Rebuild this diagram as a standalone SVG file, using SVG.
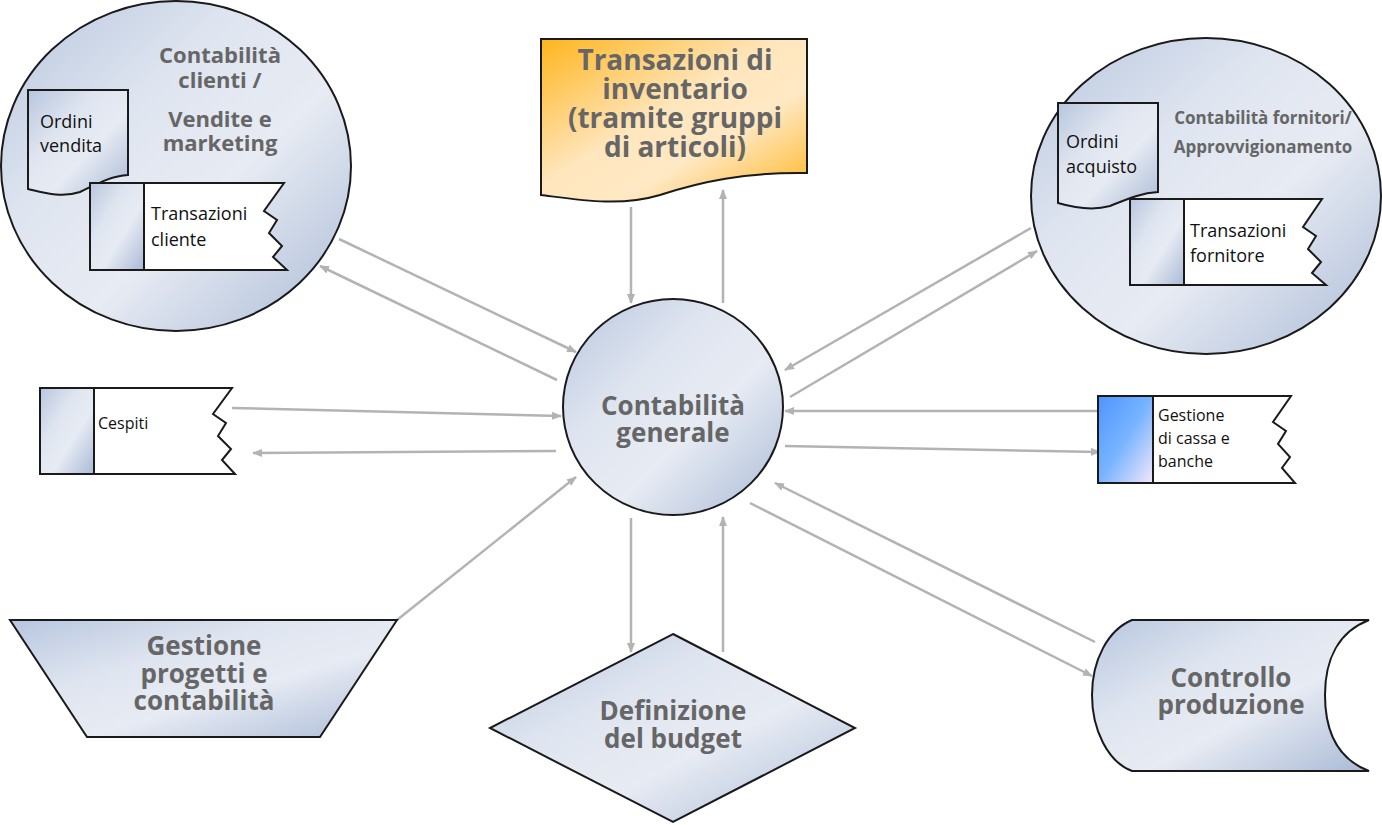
<svg xmlns="http://www.w3.org/2000/svg" width="1382" height="825" viewBox="0 0 1382 825">
<style>
.sh{stroke:#1a1a1a;stroke-width:2;fill:url(#gBlue)}
.wh{stroke:#1a1a1a;stroke-width:2;fill:#fff}
.big{font-family:"Open Sans","Noto Sans",sans-serif;font-weight:bold;fill:#666;text-anchor:middle}
.sm{font-family:"Open Sans","Noto Sans",sans-serif;fill:#111}
.cn line{stroke:#b3b3b3;stroke-width:2.5;marker-end:url(#ah)}
</style>
<defs>
<linearGradient id="gBlue" x1="0" y1="0" x2="1" y2="1">
<stop offset="0" stop-color="#b7c6de"/>
<stop offset="0.35" stop-color="#dfe5f0"/>
<stop offset="0.6" stop-color="#e7ebf3"/>
<stop offset="1" stop-color="#a9bad6"/>
</linearGradient>
<linearGradient id="gOr" x1="0" y1="0" x2="1" y2="1">
<stop offset="0" stop-color="#ffb41c"/>
<stop offset="0.45" stop-color="#ffe6bd"/>
<stop offset="0.65" stop-color="#ffe8c4"/>
<stop offset="1" stop-color="#ffb51f"/>
</linearGradient>
<linearGradient id="gCash" x1="0" y1="0" x2="1" y2="1">
<stop offset="0" stop-color="#4d94ff"/>
<stop offset="0.5" stop-color="#78b4ff"/>
<stop offset="1" stop-color="#f3e8f8"/>
</linearGradient>
<marker id="ah" markerWidth="10" markerHeight="8" refX="9" refY="4" orient="auto" markerUnits="userSpaceOnUse">
<path d="M0,0 L10,4 L0,8 Z" fill="#b3b3b3"/>
</marker>
</defs>

<g class="cn" id="connectors">
<line x1="631" y1="207" x2="631" y2="303"/>
<line x1="723" y1="303" x2="723" y2="190"/>
<line x1="339" y1="239" x2="576" y2="352"/>
<line x1="557" y1="380" x2="320" y2="266"/>
<line x1="232" y1="408" x2="561" y2="416"/>
<line x1="556" y1="451" x2="253" y2="453"/>
<line x1="397" y1="620" x2="576" y2="477"/>
<line x1="631" y1="518" x2="631" y2="652"/>
<line x1="723" y1="652" x2="723" y2="517"/>
<line x1="1095" y1="642" x2="775" y2="483"/>
<line x1="750" y1="503" x2="1092" y2="676"/>
<line x1="1097" y1="411" x2="785" y2="411"/>
<line x1="785" y1="446" x2="1100" y2="452"/>
<line x1="1031" y1="228" x2="785" y2="370"/>
<line x1="790" y1="397" x2="1037" y2="251"/>
</g>

<g id="clienti">
<ellipse class="sh" cx="176" cy="166" rx="175" ry="165"/>
<text class="big" font-size="22"><tspan x="220" y="63">Contabilità</tspan><tspan x="220" y="88">clienti /</tspan></text>
<text class="big" font-size="22"><tspan x="220" y="127">Vendite e</tspan><tspan x="220" y="151">marketing</tspan></text>
<path class="sh" d="M28,90 H128 V175 C110,176 95,185 80,192 C62,198 45,193 28,189 Z"/>
<text class="sm" font-size="18"><tspan x="40" y="128">Ordini</tspan><tspan x="40" y="152">vendita</tspan></text>
<rect class="sh" x="90" y="183" width="54" height="87"/>
<path class="wh" d="M144,183 H284 L264,211 L277,220 L269,233 L282,246 L273,257 L287,270 H144 Z"/>
<text class="sm" font-size="18"><tspan x="151" y="220">Transazioni</tspan><tspan x="151" y="246">cliente</tspan></text>
</g>

<g id="inventario">
<path d="M541,39 H807 V173 C745,172 700,182 660,195 C620,207 580,200 541,195 Z" fill="url(#gOr)" stroke="#1a1a1a" stroke-width="2"/>
<text class="big" font-size="28"><tspan x="675" y="70">Transazioni di</tspan><tspan x="675" y="99">inventario</tspan><tspan x="675" y="128">(tramite gruppi</tspan><tspan x="675" y="157">di articoli)</tspan></text>
</g>

<g id="fornitori">
<ellipse class="sh" cx="1206" cy="196" rx="175" ry="158"/>
<text class="big" font-size="17"><tspan x="1263" y="124">Contabilità fornitori/</tspan><tspan x="1263" y="153">Approvvigionamento</tspan></text>
<path class="sh" d="M1058,103 H1158 V192 C1140,193 1125,200 1110,206 C1092,211 1075,208 1058,203 Z"/>
<text class="sm" font-size="18"><tspan x="1066" y="148">Ordini</tspan><tspan x="1066" y="173">acquisto</tspan></text>
<rect class="sh" x="1130" y="199" width="54" height="86"/>
<path class="wh" d="M1184,199 H1322 L1303,227 L1316,236 L1308,249 L1321,262 L1312,273 L1326,285 H1184 Z"/>
<text class="sm" font-size="18"><tspan x="1190" y="237">Transazioni</tspan><tspan x="1190" y="262">fornitore</tspan></text>
</g>

<g id="generale">
<ellipse class="sh" cx="673" cy="407" rx="110" ry="108"/>
<text class="big" font-size="26"><tspan x="673" y="415">Contabilità</tspan><tspan x="673" y="442">generale</tspan></text>
</g>

<g id="cespiti">
<rect class="sh" x="40" y="388" width="54" height="86"/>
<path class="wh" d="M94,388 H232 L213,414 L226,423 L218,436 L231,449 L222,460 L235,474 H94 Z"/>
<text class="sm" font-size="16" x="98" y="429">Cespiti</text>
</g>

<g id="cassa">
<rect x="1098" y="396" width="55" height="87" fill="url(#gCash)" stroke="#1a1a1a" stroke-width="2"/>
<path class="wh" d="M1153,396 H1291 L1273,422 L1286,431 L1278,444 L1290,457 L1282,468 L1295,483 H1153 Z"/>
<text class="sm" font-size="16"><tspan x="1158" y="421">Gestione</tspan><tspan x="1158" y="444">di cassa e</tspan><tspan x="1158" y="467">banche</tspan></text>
</g>

<g id="progetti">
<path class="sh" d="M10,620 H397 L320,737 H87 Z"/>
<text class="big" font-size="26"><tspan x="204" y="655">Gestione</tspan><tspan x="204" y="683">progetti e</tspan><tspan x="204" y="710">contabilità</tspan></text>
</g>

<g id="budget">
<path class="sh" d="M673,634 L855,728 L673,822 L490,728 Z"/>
<text class="big" font-size="26"><tspan x="673" y="720">Definizione</tspan><tspan x="673" y="748">del budget</tspan></text>
</g>

<g id="produzione">
<path class="sh" d="M1132,620 H1369 C1338,632 1325,660 1325,695 C1325,735 1340,760 1369,771 H1132 C1108,762 1092,730 1092,695 C1092,660 1108,630 1132,620 Z"/>
<text class="big" font-size="26"><tspan x="1231" y="687">Controllo</tspan><tspan x="1231" y="714">produzione</tspan></text>
</g>
</svg>
